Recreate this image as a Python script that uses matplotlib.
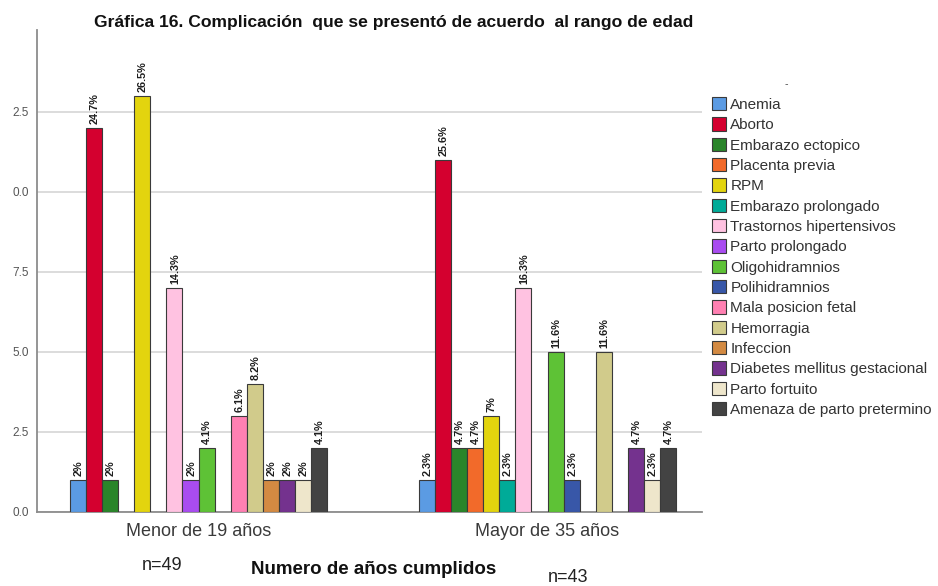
import matplotlib
matplotlib.use("Agg")
import matplotlib.pyplot as plt
from matplotlib.patches import Patch
import numpy as np

# Complications (legend order / slot order inside each age group)
categories = [
    "Anemia", "Aborto", "Embarazo ectopico", "Placenta previa", "RPM",
    "Embarazo prolongado", "Trastornos hipertensivos", "Parto prolongado",
    "Oligohidramnios", "Polihidramnios", "Mala posicion fetal", "Hemorragia",
    "Infeccion", "Diabetes mellitus gestacional", "Parto fortuito",
    "Amenaza de parto pretermino",
]
colors = [
    "#5b9be3", "#d4002f", "#2a852a", "#f26a2a", "#e3d40e",
    "#00ab98", "#ffc2e1", "#a94cf0", "#5ec236", "#3857a8",
    "#ff80b2", "#d1cb8b", "#d38a42", "#74328e", "#eee6cb",
    "#434343",
]

groups = ["Menor de 19 años", "Mayor de 35 años"]
group_n = ["n=49", "n=43"]

# counts per complication (0 = not present)
menor_19 = [1, 12, 1, 0, 13, 0, 7, 1, 2, 0, 3, 4, 1, 1, 1, 2]
mayor_35 = [1, 11, 2, 2, 3, 1, 7, 0, 5, 1, 0, 5, 0, 2, 1, 2]

menor_19_pct = ["2%", "24.7%", "2%", "", "26.5%", "", "14.3%", "2%", "4.1%",
                "", "6.1%", "8.2%", "2%", "2%", "2%", "4.1%"]
mayor_35_pct = ["2.3%", "25.6%", "4.7%", "4.7%", "7%", "2.3%", "16.3%", "",
                "11.6%", "2.3%", "", "11.6%", "", "4.7%", "2.3%", "4.7%"]

y_ticks = [0.0, 2.5, 5.0, 7.5, 10.0, 12.5]
y_tick_labels = ["0.0", "2.5", "5.0", "7.5", "0.0", "2.5"]

SANS = ["Liberation Sans", "DejaVu Sans"]

W, H = 938, 586
fig = plt.figure(figsize=(W / 100, H / 100), dpi=100)
fig.patch.set_facecolor("white")

ax_l, ax_r, ax_b, ax_t = 37, 702, 512, 30
ax = fig.add_axes([ax_l / W, 1 - ax_b / H, (ax_r - ax_l) / W, (ax_b - ax_t) / H])

slot = 0.0461
n_cat = len(categories)
offsets = (np.arange(n_cat) - (n_cat - 1) / 2) * slot

label_font = dict(family=SANS, fontsize=7.8, fontweight="bold", color="#1e1e1e")

for gi, (vals, pcts) in enumerate([(menor_19, menor_19_pct), (mayor_35, mayor_35_pct)]):
    for ci in range(n_cat):
        v = vals[ci]
        if v <= 0:
            continue
        x = gi + offsets[ci]
        ax.bar(x, v, width=slot, color=colors[ci], edgecolor="#3a3a3a",
               linewidth=0.8, zorder=3)
        ax.annotate(pcts[ci], (x, v), xytext=(0.5, 3), textcoords="offset points",
                    rotation=90, ha="center", va="bottom", zorder=4, **label_font)

ax.set_xlim(-0.4628, 1.4427)
ax.set_ylim(0, 15.06)
ax.set_yticks(y_ticks)
ax.set_yticklabels(y_tick_labels)
ax.set_xticks([0, 1])
ax.set_xticklabels(groups)
ax.grid(axis="y", color="#d9d9d9", linewidth=1.3, zorder=0)
ax.set_axisbelow(True)
for side in ("top", "right"):
    ax.spines[side].set_visible(False)
for side in ("left", "bottom"):
    ax.spines[side].set_color("#8c8c8c")
    ax.spines[side].set_linewidth(1.3)
ax.tick_params(axis="both", length=0)
ax.tick_params(axis="y", labelsize=8.5, labelcolor="#555555", pad=6)
ax.tick_params(axis="x", labelsize=13, labelcolor="#3a3a3a", pad=8)
for t in ax.get_yticklabels() + ax.get_xticklabels():
    t.set_family(SANS)

# Title
fig.text(394 / W, 1 - 22 / H,
         "Gráfica 16. Complicación  que se presentó de acuerdo  al rango de edad",
         ha="center", va="center", fontsize=12.6, fontweight="bold", color="#111111",
         family=SANS)

# Axis title and group sizes
fig.text(374 / W, 1 - 570 / H, "Numero de años cumplidos", ha="center", va="center",
         fontsize=13.5, fontweight="bold", color="#111111", family=SANS)
fig.text(162 / W, 1 - 566 / H, group_n[0], ha="center", va="center",
         fontsize=13, color="#222222", family=SANS)
fig.text(568 / W, 1 - 577 / H, group_n[1], ha="center", va="center",
         fontsize=13, color="#222222", family=SANS)

# Legend
handles = [Patch(facecolor=c, edgecolor="#3a3a3a", linewidth=0.8) for c in colors]
leg = fig.legend(handles, categories, loc="upper left",
                 bbox_to_anchor=(709 / W, 1 - 94 / H), frameon=True,
                 fancybox=False, edgecolor="none", facecolor="white", framealpha=1,
                 prop={"family": SANS, "size": 11},
                 handlelength=0.9, handleheight=0.95, handletextpad=0.3,
                 labelspacing=0.36, borderpad=0.2, borderaxespad=0)
for t in leg.get_texts():
    t.set_color("#333333")
fig.text(786 / W, 1 - 84 / H, "-", ha="center", va="center", fontsize=7,
         color="#555555")

fig.savefig("out.png", dpi=100)
